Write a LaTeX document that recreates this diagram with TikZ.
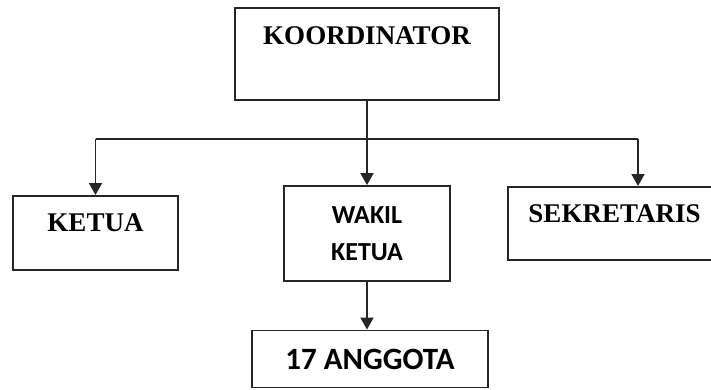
\documentclass[tikz,border=0pt]{standalone}
\usepackage{fontspec}
\setmainfont{Liberation Serif}
\newfontfamily\calibfont{Carlito}
\usetikzlibrary{arrows.meta, positioning}

\tikzset{
    unit/.style={draw=black!85, line width=1.9pt, rectangle, inner sep=0pt},
    serifbox/.style={unit, anchor=north, font=\fontsize{27}{32}\selectfont\bfseries},
    sansbox/.style={unit, font=\calibfont\fontsize{26}{37}\selectfont\bfseries, align=center},
    link/.style={draw=black!85, line width=1.9pt},
    arr/.style={link, -{Triangle[width=13pt,length=12pt]}}
}

\begin{document}
\begin{tikzpicture}[x=1pt, y=-1pt]
        \useasboundingbox (0,0) rectangle (711,390);

        \node[serifbox, minimum width=264pt, text height=37pt, text depth=55pt]
            (koor) at (367,7) {KOORDINATOR};
        \node[serifbox, minimum width=165pt, text height=36pt, text depth=38pt]
            (ketua) at (95.5,195) {KETUA};
        \node[sansbox, minimum width=166pt, minimum height=95pt]
            (wakil) at (367,233.5) {WAKIL\\KETUA};
        \node[serifbox, minimum width=213pt, text height=36pt, text depth=37pt]
            (sekre) at (614.5,186) {SEKRETARIS};
        \node[sansbox, font=\calibfont\fontsize{31}{37}\selectfont\bfseries,
              minimum width=236pt, minimum height=57pt]
            (anggota) at (370,359) {17 ANGGOTA};

        \coordinate (busL) at (95.5,139);
        \coordinate (busR) at (638,139);

        \draw[link] (busL) -- (busR);
        \draw[arr] (koor) -- (wakil);
        \draw[arr] (busL) -- (ketua.north);
        \draw[arr] (busR) -- (busR |- sekre.north);
        \draw[arr] (wakil) -- (wakil.south |- anggota.north);
\end{tikzpicture}
\end{document}
